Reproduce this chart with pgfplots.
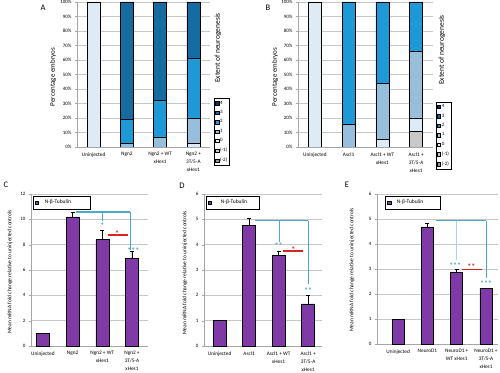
\documentclass[border=0pt]{standalone}
\usepackage{pgfplots}
\pgfplotsset{compat=1.18}
\usepackage{fontspec}
\setmainfont{Carlito}
\definecolor{purp}{RGB}{128,58,168}
\definecolor{annb}{RGB}{75,170,200}
\definecolor{annr}{RGB}{220,35,35}
\definecolor{cfour}{RGB}{18,52,92}
\definecolor{cthree}{RGB}{22,108,160}
\definecolor{ctwo}{RGB}{30,152,215}
\definecolor{cone}{RGB}{152,190,222}
\definecolor{czero}{RGB}{222,234,244}
\definecolor{cmone}{RGB}{200,200,198}
\definecolor{cmtwo}{RGB}{150,150,150}
\newcommand{\tk}{\fontsize{5}{6}\selectfont}
\newcommand{\astf}{\fontsize{8}{8}\selectfont\bfseries}
\pgfplotsset{
  panel/.style={scale only axis, anchor=south west,
    axis lines=left, axis line style={draw=gray!70,-},
    tick align=outside,
    ticklabel style={font=\tk},
    xticklabel style={align=center,font=\fontsize{5.3}{8}\selectfont},
    ymajorgrids, grid style={draw=gray!45,line width=0.4pt},
    xtick={0,1,2,3}, xtick style={draw=none},
    minor xtick={-0.5,0.5,1.5,2.5,3.5}, minor tick style={draw=gray!70},
    minor tick length=2pt, major tick length=2pt,
    ytick style={draw=gray!70},
    /pgf/number format/assume math mode=true,
  },
  sq/.style={area legend, legend image post style={xscale=0.2,yscale=0.6,draw=black,line width=0.3pt}},
  stk/.style={draw=black,line width=0.5pt,sq},
}
\begin{document}
\begin{tikzpicture}
\path[use as bounding box] (0,0) rectangle (500pt,372pt);
% ---------------- A ----------------
\begin{axis}[panel, at={(77pt,225pt)}, width=133pt, height=145pt,
  ybar stacked, bar width=13pt, xmin=-0.5, xmax=3.5, ymin=0, ymax=100,
  ytick={0,10,...,100}, yticklabel={\pgfmathprintnumber{\tick}\%},
  xticklabels={Uninjected, Ngn2, {Ngn2 + WT\\xHes1}, {Ngn2 +\\3T/5-A\\xHes1}},
  reverse legend, legend cell align=left,
  legend style={at={(rel axis cs:1.03,0.335)}, anchor=north west, draw=black, fill=white,
    font=\tk, row sep=2.3pt, inner sep=1pt, nodes={inner sep=1.2pt}}]
\addlegendimage{sq,fill=cmtwo}
\addplot[stk, fill=cmone] coordinates {(0,0) (1,0) (2,0) (3,0)};
\addplot[stk, fill=czero] coordinates {(0,100) (1,0) (2,0) (3,2.5)};
\addplot[stk, fill=cone] coordinates {(0,0) (1,2.5) (2,7) (3,17.5)};
\addplot[stk, fill=ctwo] coordinates {(0,0) (1,16.5) (2,25) (3,41)};
\addplot[stk, fill=cthree] coordinates {(0,0) (1,81) (2,68) (3,39)};
\addlegendimage{sq,fill=cfour}
\legend{(-2),(-1),0,1,2,3,4}
\end{axis}
% ---------------- B ----------------
\begin{axis}[panel, at={(298pt,225pt)}, width=135pt, height=145pt,
  ybar stacked, bar width=13pt, xmin=-0.5, xmax=3.5, ymin=0, ymax=100,
  ytick={0,10,...,100}, yticklabel={\pgfmathprintnumber{\tick}\%},
  xticklabels={Uninjected, Ascl1, {Ascl1 + WT\\xHes1}, {Ascl1 +\\3T/5-A\\xHes1}},
  reverse legend, legend cell align=left,
  legend style={at={(rel axis cs:1.02,0.31)}, anchor=north west, draw=black, fill=white,
    font=\tk, row sep=2.3pt, inner sep=1pt, nodes={inner sep=1.2pt}}]
\addlegendimage{sq,fill=cmtwo}
\addplot[stk, fill=cmone] coordinates {(0,0) (1,0) (2,0) (3,11)};
\addplot[stk, fill=czero] coordinates {(0,100) (1,0) (2,5) (3,9)};
\addplot[stk, fill=cone] coordinates {(0,0) (1,16) (2,39) (3,46)};
\addplot[stk, fill=ctwo] coordinates {(0,0) (1,84) (2,56) (3,34)};
\addlegendimage{sq,fill=cthree}
\addlegendimage{sq,fill=cfour}
\legend{(-2),(-1),0,1,2,3,4}
\end{axis}
% ---------------- C ----------------
\begin{axis}[panel, at={(31pt,26pt)}, width=117pt, height=152pt,
  ybar, bar width=13pt, xmin=-0.4, xmax=3.54, ymin=0, ymax=12, ytick={0,2,...,12},
  xticklabels={Uninjected, Ngn2, {Ngn2 + WT\\xHes1}, {Ngn2 +\\3T/5-A\\xHes1}},
  legend style={at={(rel axis cs:0.02,0.985)}, anchor=north west, draw=black, fill=white,
    font=\fontsize{5.5}{6.5}\selectfont, inner sep=1.5pt}]
\addplot[fill=purp, draw=black, line width=0.5pt, sq,
  error bars/.cd, y dir=plus, y explicit, error bar style={black,line width=0.5pt}]
  coordinates {(0,1.0) +- (0,0) (1,10.2) +- (0,0.35) (2,8.42) +- (0,0.73) (3,6.92) +- (0,0.53)};
\addlegendentry{\makebox[46pt][l]{\hspace{4pt}N-β-Tubulin}}
\draw[annb, line width=1.1pt] (1.1,10.58) -- (2.93,10.58);
\draw[annb, line width=0.6pt] (2.93,10.58) -- (2.93,7.6);
\draw[annb, line width=0.6pt] (2.0,10.58) -- (2.0,9.9);
\node[annb, font=\astf] at (2.0,9.5) {*};
\node[annb, font=\astf] at (3.05,7.55) {***};
\draw[annr, line width=1.4pt] (2.19,8.76) -- (2.86,8.76);
\node[annr, font=\astf] at (2.5,8.85) {*};
\end{axis}
% ---------------- D ----------------
\begin{axis}[panel, at={(204pt,26pt)}, width=118pt, height=152pt,
  ybar, bar width=13pt, xmin=-0.53, xmax=3.47, ymin=0, ymax=6, ytick={0,1,...,6},
  xticklabels={Uninjected, Ascl1, {Ascl1 + WT\\xHes1}, {Ascl1 +\\3T/5-A\\xHes1}},
  legend style={at={(rel axis cs:0.02,0.985)}, anchor=north west, draw=black, fill=white,
    font=\fontsize{5.5}{6.5}\selectfont, inner sep=1.5pt}]
\addplot[fill=purp, draw=black, line width=0.5pt, sq,
  error bars/.cd, y dir=plus, y explicit, error bar style={black,line width=0.5pt}]
  coordinates {(0,1.0) +- (0,0) (1,4.76) +- (0,0.28) (2,3.59) +- (0,0.14) (3,1.66) +- (0,0.33)};
\addlegendentry{\makebox[42pt][l]{\hspace{7pt}N-β-Tubulin}}
\draw[annb, line width=1.1pt] (1.2,4.95) -- (3.0,4.95);
\draw[annb, line width=0.6pt] (3.0,4.95) -- (3.0,2.45);
\draw[annb, line width=0.6pt] (2.03,4.95) -- (2.03,4.12);
\node[annb, font=\astf] at (2.0,3.98) {**};
\node[annb, font=\astf] at (3.0,2.17) {**};
\draw[annr, line width=1.4pt] (2.16,3.75) -- (2.84,3.75);
\node[annr, font=\astf] at (2.5,3.8) {*};
\end{axis}
% ---------------- E ----------------
\begin{axis}[panel, at={(377pt,28pt)}, width=121pt, height=150pt,
  ybar, bar width=12pt, xmin=-0.72, xmax=3.41, ymin=0, ymax=6, ytick={0,1,...,6},
  xticklabels={Uninjected, NeuroD1, {NeuroD1 +\\WT xHes1}, {NeuroD1 +\\3T/5-A\\xHes1}},
  legend style={at={(rel axis cs:0.07,0.985)}, anchor=north west, draw=black, fill=white,
    font=\fontsize{5.5}{6.5}\selectfont, inner sep=1.5pt}]
\addplot[fill=purp, draw=black, line width=0.5pt, sq,
  error bars/.cd, y dir=plus, y explicit, error bar style={black,line width=0.5pt}]
  coordinates {(0,1.0) +- (0,0) (1,4.68) +- (0,0.16) (2,2.87) +- (0,0.13) (3,2.22) +- (0,0.03)};
\addlegendentry{\makebox[44pt][l]{\hspace{4pt}N-β-Tubulin}}
\draw[annb, line width=1.1pt] (1.3,4.93) -- (3.0,4.93);
\draw[annb, line width=0.6pt] (3.0,4.93) -- (3.0,2.63);
\draw[annb!50, line width=0.4pt] (1.98,4.93) -- (1.98,3.35);
\node[annb, font=\astf] at (1.95,3.15) {***};
\node[annb, font=\astf] at (3.0,2.4) {***};
\draw[annr, line width=1.4pt] (2.17,2.99) -- (2.86,2.99);
\node[annr, font=\astf] at (2.5,3.1) {**};
\end{axis}
% ---------------- text ----------------
\node[font=\fontsize{8.5}{10}\selectfont] at (43pt,364pt) {A};
\node[font=\fontsize{8.5}{10}\selectfont] at (268pt,364pt) {B};
\node[font=\fontsize{8.5}{10}\selectfont] at (6pt,187pt) {C};
\node[font=\fontsize{8.5}{10}\selectfont] at (182pt,186pt) {D};
\node[font=\fontsize{8.5}{10}\selectfont] at (347pt,187pt) {E};
\node[rotate=90, font=\fontsize{7}{8}\selectfont] at (53pt,295pt) {Percentage embryos};
\node[rotate=90, font=\fontsize{7}{8}\selectfont] at (275pt,295pt) {Percentage embryos};
\node[rotate=90, font=\fontsize{7.5}{8}\selectfont] at (218pt,324pt) {Extent of neurogenesis};
\node[rotate=90, font=\fontsize{7.5}{8}\selectfont] at (442pt,322pt) {Extent of neurogenesis};
\node[rotate=90, font=\fontsize{5.5}{6}\selectfont] at (10pt,100pt) {Mean mRNA fold change relative to uninjected controls};
\node[rotate=90, font=\fontsize{5.5}{6}\selectfont] at (185pt,99pt) {Mean mRNA fold change relative to uninjected controls};
\node[rotate=90, font=\fontsize{5.5}{6}\selectfont] at (352pt,102pt) {Mean mRNA fold change relative to uninjected controls};
\end{tikzpicture}
\end{document}
